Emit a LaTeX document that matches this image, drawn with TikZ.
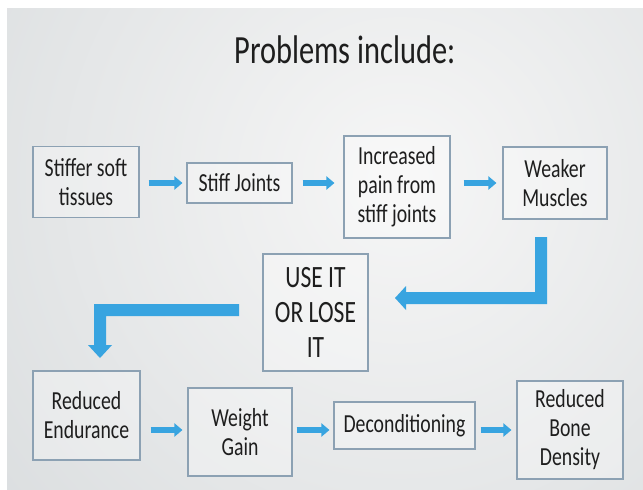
\documentclass[tikz,border=0pt]{standalone}
\usepackage{fontspec}
\setmainfont{Carlito}[FakeStretch=0.76]
\usetikzlibrary{arrows.meta}
\definecolor{arrblue}{HTML}{38A4E0}
\definecolor{boxline}{HTML}{8CA1B3}
\definecolor{txt}{HTML}{1E1E1E}
\definecolor{bgin}{HTML}{F6F6F6}
\definecolor{bgout}{HTML}{C2C8CB}
\begin{document}
\begin{tikzpicture}[x=1pt,y=-1pt,
  box/.style={draw=boxline,line width=1.1pt,fill=white,fill opacity=0.3,text opacity=1,
    text=txt,align=center,inner sep=0pt,font=\fontsize{26}{29}\selectfont},
  arr/.style={draw=arrblue,line width=6pt,-{Triangle[length=8pt,width=13pt]}},
  elbow/.style={fill=arrblue}]
\useasboundingbox (0,0) rectangle (643,490);
\fill[white] (0,0) rectangle (643,490);
\begin{scope}
  \clip (7,8) rectangle (643,490);
  \shade[inner color=bgin,outer color=bgout] (400,180) circle (1000pt);
\end{scope}

\node[font=\fontsize{40}{44}\selectfont,text=txt] (title) at (345,50) {Problems include:};

\node[box,minimum width=106pt,minimum height=71pt] (s1) at (86,182) {Stiffer soft\\tissues};
\node[box,minimum width=105pt,minimum height=40pt] (s2) at (239.5,183) {Stiff Joints};
\node[box,minimum width=106pt,minimum height=102pt] (s3) at (397,187) {Increased\\pain from\\stiff joints};
\node[box,minimum width=104pt,minimum height=72pt] (s4) at (555,183) {Weaker\\Muscles};

\node[box,minimum width=105pt,minimum height=117pt,font=\fontsize{31}{35}\selectfont] (u) at (315.5,312.5) {USE IT\\OR LOSE\\IT};

\node[box,minimum width=107pt,minimum height=89pt] (b1) at (86.5,415.5) {Reduced\\Endurance};
\node[box,minimum width=104pt,minimum height=88pt] (b2) at (240,432) {Weight\\Gain};
\node[box,minimum width=141pt,minimum height=47pt] (b3) at (404.5,425.5) {Deconditioning};
\node[box,minimum width=106pt,minimum height=98pt] (b4) at (570,430) {Reduced\\Bone\\Density};

\draw[arr,shorten <=9pt,shorten >=4pt] (s1.east |- s2.west) -- (s2.west);
\draw[arr,shorten <=10pt,shorten >=9pt] (s2.east) -- (s3.west |- s2.east);
\draw[arr,shorten <=13pt,shorten >=6pt] (s3.east |- s4.west) -- (s4.west);

\coordinate (yb) at (0,430);
\draw[arr,shorten <=10pt,shorten >=5pt] (b1.east |- yb) -- (b2.west |- yb);
\draw[arr,shorten <=4pt,shorten >=4pt] (b2.east |- yb) -- (b3.west |- yb);
\draw[arr,shorten <=5pt,shorten >=5pt] (b3.east |- yb) -- (b4.west |- yb);

% right elbow arrow: from under Weaker Muscles to USE IT box
\coordinate (r1) at (541,237);
\coordinate (r2) at (395,298);
\fill[elbow] (535,237) -- (547,237) -- (547,304) -- (406,304) -- (406,310)
  -- (r2) -- (406,286) -- (406,292) -- (535,292) -- cycle;

% left elbow arrow: from USE IT box down to Reduced Endurance
\coordinate (l1) at (239,310);
\coordinate (l2) at (100,358);
\fill[elbow] (239,304) -- (94,304) -- (94,345) -- (88,345) -- (l2)
  -- (112,345) -- (106,345) -- (106,316) -- (239,316) -- cycle;
\end{tikzpicture}
\end{document}
